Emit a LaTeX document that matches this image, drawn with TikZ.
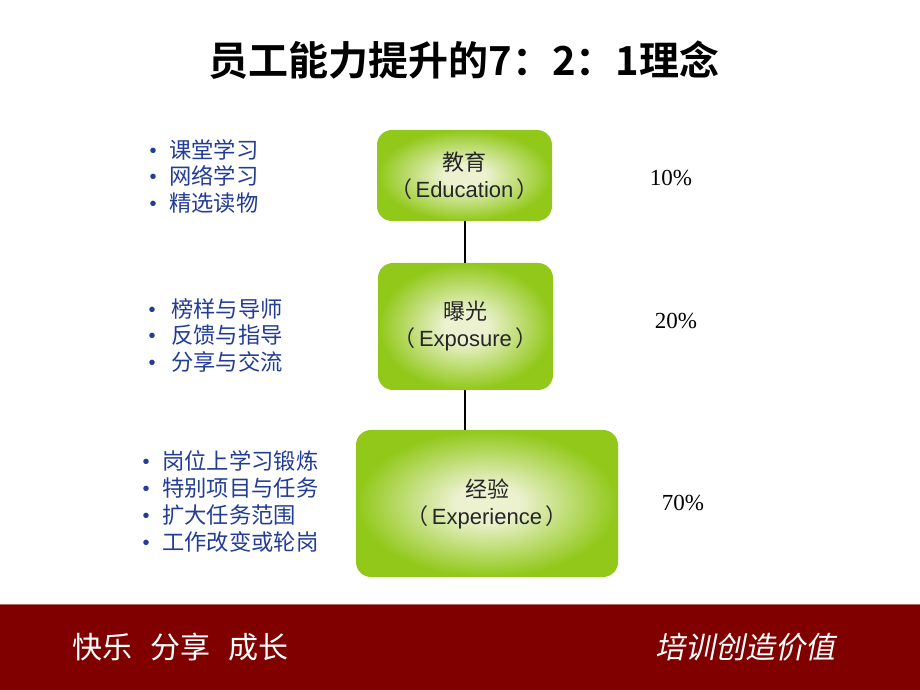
\documentclass[tikz,border=0pt]{standalone}
\usepackage{fontspec}
\setmainfont{Liberation Sans}
\newfontfamily\cjk{Noto Sans CJK SC}
\newfontfamily\cjkb{Noto Sans CJK SC Bold}
\newfontfamily\cjki[FakeSlant=0.2]{Noto Sans CJK SC}
\newfontfamily\latinsans{Liberation Sans}
\newfontfamily\latinserif{Liberation Serif}
\definecolor{boxgreen}{RGB}{145,200,25}
\definecolor{boxlight}{RGB}{236,242,208}
\definecolor{listblue}{RGB}{35,60,150}
\definecolor{barred}{RGB}{128,0,0}
\pgfdeclareradialshading{boxglow}{\pgfpoint{0bp}{0bp}}{color(0bp)=(boxlight); color(6bp)=(boxlight); color(25bp)=(boxgreen); color(50bp)=(boxgreen)}
\newcommand{\lpar}{{\cjk （}\hspace{0.15em}}
\newcommand{\rpar}{\hspace{0.15em}{\cjk ）}}
\begin{document}
\begin{tikzpicture}[x=1pt,y=1pt,
  stagebox/.style={rounded corners=15pt, shading=boxglow, inner sep=0pt, align=center,
    font=\fontsize{22}{27}\selectfont, text=black!85},
  listline/.style={anchor=west, inner sep=0pt, text=listblue, font=\cjk\fontsize{22.3}{24}\selectfont},
  bul/.style={inner sep=0pt, text=listblue, font=\latinsans\fontsize{20}{20}\selectfont, yshift=-2.5pt},
  pct/.style={inner sep=0pt, font=\latinserif\fontsize{23}{23}\selectfont},
  conn/.style={line width=1.5pt, black}]
\useasboundingbox (0,0) rectangle (920,690);
\fill[white] (0,0) rectangle (920,690);
% title
\node[inner sep=0pt, font=\cjkb\fontsize{40}{42}\selectfont] (title) at (464,630) {员工能力提升的7：2：1理念};
% boxes
\node[stagebox, minimum width=175pt, minimum height=91pt] (edu) at (464.5,514.5)
  {{\cjk 教育}\\\lpar Education\rpar};
\node[stagebox, minimum width=175pt, minimum height=127pt] (exp) at (465.5,363.5)
  {{\cjk 曝光}\\\lpar Exposure\rpar};
\node[stagebox, minimum width=262pt, minimum height=147pt] (xp) at (487,186.5)
  {{\cjk 经验}\\\lpar Experience\rpar};
% connectors
\draw[conn] (edu.south -| 465,0) -- (exp.north -| 465,0);
\draw[conn] (exp.south -| 465,0) -- (xp.north -| 465,0);
% percentages
\node[pct] (p10) at (671,512) {10\%};
\node[pct] (p20) at (676,369) {20\%};
\node[pct] (p70) at (683,187) {70\%};
% list 1
\node[bul] (b11) at (153,540) {•}; \node[listline] (l11) at (169,540) {课堂学习};
\node[bul] (b12) at (153,514) {•}; \node[listline] (l12) at (169,514) {网络学习};
\node[bul] (b13) at (153,487) {•}; \node[listline] (l13) at (169,487) {精选读物};
% list 2
\node[bul] (b21) at (152,381) {•}; \node[listline] (l21) at (171,381) {榜样与导师};
\node[bul] (b22) at (152,355) {•}; \node[listline] (l22) at (171,355) {反馈与指导};
\node[bul] (b23) at (152,328) {•}; \node[listline] (l23) at (171,328) {分享与交流};
% list 3
\node[bul] (b31) at (146,229) {•}; \node[listline] (l31) at (162,229) {岗位上学习锻炼};
\node[bul] (b32) at (146,202) {•}; \node[listline] (l32) at (162,202) {特别项目与任务};
\node[bul] (b33) at (146,175) {•}; \node[listline] (l33) at (162,175) {扩大任务范围};
\node[bul] (b34) at (146,148) {•}; \node[listline] (l34) at (162,148) {工作改变或轮岗};
% bottom bar
\fill[barred] (0,0) rectangle (920,85);
\draw[barred!60!white, line width=1pt] (0,85) -- (920,85);
\node[anchor=west, inner sep=0pt, text=white, font=\cjk\fontsize{30}{32}\selectfont] (motto) at (72,43) {快乐\hspace{0.6em}分享\hspace{0.6em}成长};
\node[anchor=west, inner sep=0pt, text=white, font=\cjki\fontsize{30}{32}\selectfont] (slogan) at (655,43) {培训创造价值};
\end{tikzpicture}
\end{document}
